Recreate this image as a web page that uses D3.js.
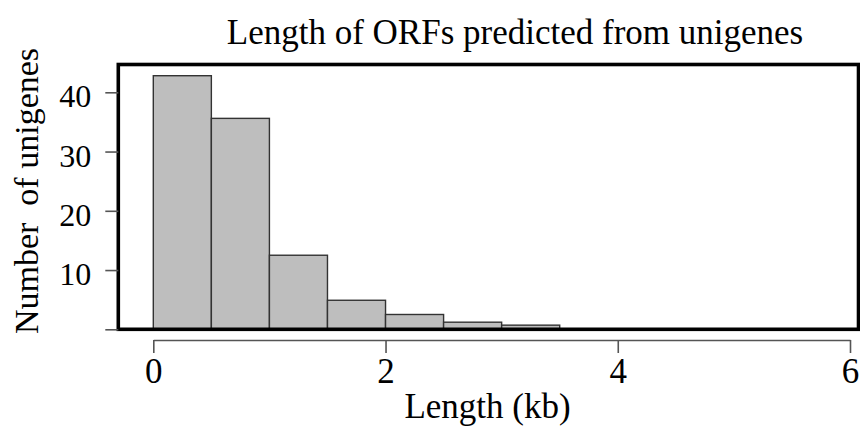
<!DOCTYPE html>
<html>
<head>
<meta charset="utf-8">
<script src="https://cdn.jsdelivr.net/npm/d3@7"></script>
<style>
  html, body { margin: 0; padding: 0; background: #fff; }
  svg { display: block; }
  text { font-family: "Liberation Serif", "Times New Roman", serif; fill: #000; }
</style>
</head>
<body>
<svg id="chart" width="860" height="435"></svg>
<script>
// ORF length histogram: bin edges in kb and bar heights
const binStarts = [0, 0.5, 1.0, 1.5, 2.0, 2.5, 3.0];
const binWidth = 0.5;
const binValues = [42.8, 35.6, 12.5, 4.9, 2.5, 1.2, 0.7];

const xTicks = [0, 2, 4, 6];
const xTickLabels = ["0", "2", "4", "6"];
const yTicks = [0, 10, 20, 30, 40];
const yTickLabels = ["", "10", "20", "30", "40"];

const titleText = "Length of ORFs predicted from unigenes";
const xTitle = "Length (kb)";
const yTitle = "Number\u00a0\u00a0of unigenes";

const svg = d3.select("#chart");

// plot frame
const frame = { left: 118.3, right: 858.5, top: 64.5, bottom: 329.3 };

const x = d3.scaleLinear().domain([0, 6]).range([153.3, 850]);
const y = d3.scaleLinear().domain([0, 40]).range([329.3, 92.3]);

// bars
svg.append("g")
  .selectAll("rect")
  .data(binStarts.map((s, i) => ({ x0: s, x1: s + binWidth, v: binValues[i] })))
  .join("rect")
  .attr("x", d => x(d.x0))
  .attr("width", d => x(d.x1) - x(d.x0))
  .attr("y", d => y(d.v))
  .attr("height", d => y(0) - y(d.v))
  .attr("fill", "#bebebe")
  .attr("stroke", "#333")
  .attr("stroke-width", 1.4);

// heavy box round the plotting region
svg.append("rect")
  .attr("x", frame.left)
  .attr("y", frame.top)
  .attr("width", frame.right - frame.left)
  .attr("height", frame.bottom - frame.top)
  .attr("fill", "none")
  .attr("stroke", "#000")
  .attr("stroke-width", 3.6);

// x axis, set below the box
const xAxis = d3.axisBottom(x)
  .tickValues(xTicks)
  .tickFormat((d, i) => xTickLabels[i])
  .tickSize(13)
  .tickSizeOuter(0)
  .tickPadding(6);
const gx = svg.append("g").attr("transform", "translate(0,340)").call(xAxis);
gx.select(".domain").attr("stroke", "#555").attr("stroke-width", 1.6);
gx.selectAll(".tick line").attr("stroke", "#555").attr("stroke-width", 1.6);
gx.selectAll(".tick text")
  .attr("font-family", "Liberation Serif, serif")
  .attr("font-size", 35)
  .attr("dy", null)
  .attr("y", 43)
  .attr("fill", "#000");

// y axis, ticks outward from the box edge
const yAxis = d3.axisLeft(y)
  .tickValues(yTicks)
  .tickFormat((d, i) => yTickLabels[i])
  .tickSize(13)
  .tickSizeOuter(0)
  .tickPadding(14);
const gy = svg.append("g").attr("transform", `translate(${frame.left},0)`).call(yAxis);
gy.select(".domain").remove();
gy.selectAll(".tick line").attr("stroke", "#555").attr("stroke-width", 1.6);
gy.selectAll(".tick text")
  .attr("font-family", "Liberation Serif, serif")
  .attr("font-size", 32)
  .attr("dy", null)
  .attr("y", 14.5)
  .attr("fill", "#000");

// titles
svg.append("text")
  .attr("x", 515)
  .attr("y", 43.7)
  .attr("text-anchor", "middle")
  .attr("font-size", 35)
  .text(titleText);

svg.append("text")
  .attr("x", 487.5)
  .attr("y", 418)
  .attr("text-anchor", "middle")
  .attr("font-size", 35)
  .text(xTitle);

svg.append("text")
  .attr("transform", "translate(37.5,191) rotate(-90)")
  .attr("text-anchor", "middle")
  .attr("font-size", 34)
  .text(yTitle);
</script>
</body>
</html>
